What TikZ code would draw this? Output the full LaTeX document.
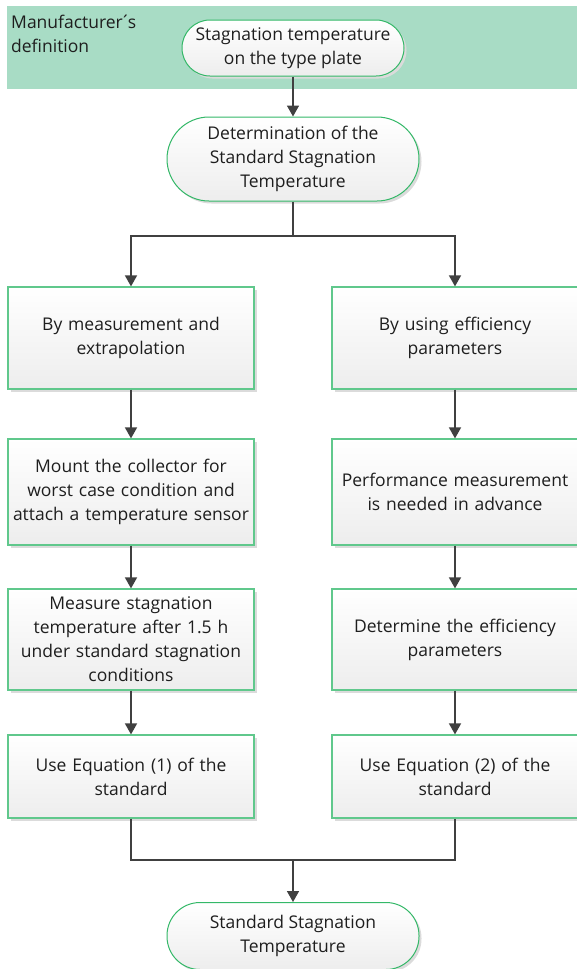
\documentclass[tikz,border=0pt]{standalone}
\usepackage{fontspec}
\setmainfont{Open Sans}
\usetikzlibrary{arrows.meta,shadows,calc}
\definecolor{banner}{RGB}{168,220,197}
\definecolor{edge}{RGB}{52,184,104}
\definecolor{boxedge}{RGB}{96,200,140}
\definecolor{ink}{RGB}{30,30,30}
\definecolor{wire}{RGB}{64,64,64}
\tikzset{
  txt/.style={font=\fontsize{17.5}{24}\selectfont, text=ink, align=center},
  shade/.style={drop shadow={shadow xshift=2.5pt, shadow yshift=-2.5pt, fill=black!14, opacity=1}},
  term/.style={txt, draw=edge, line width=1pt, top color=white, bottom color=black!7, shade, inner sep=0pt},
  stepbox/.style={txt, draw=boxedge, line width=1.2pt, top color=white, bottom color=black!7, shade,
    minimum width=246pt, inner sep=0pt, text width=242pt},
  wireline/.style={draw=wire, line width=1.6pt},
  arr/.style={wireline, -{Triangle[length=11pt,width=12pt]}}
}
\begin{document}
\begin{tikzpicture}[x=1pt,y=-1pt]
\useasboundingbox (0,0) rectangle (577,969);
% banner
\fill[banner] (7,6) rectangle (580,89);
\node[txt, anchor=north west, align=left, inner sep=0pt] (lab) at (11,15) {Manufacturer\kern-2.5pt´\kern-2.5pt s\\definition};
% terminals
\node[term, minimum width=222pt, minimum height=56pt, rounded corners=28pt] (t1) at (293,48)
  {Stagnation temperature\\on the type plate};
\node[term, minimum width=252pt, minimum height=84pt, rounded corners=42pt] (t2) at (293,159)
  {Determination of the\\Standard Stagnation\\Temperature};
\node[term, minimum width=252pt, minimum height=67pt, rounded corners=33pt] (t3) at (293,936)
  {Standard Stagnation\\Temperature};
% left column
\node[stepbox, minimum height=102pt] (l1) at (131,338) {By measurement and\\extrapolation};
\node[stepbox, minimum height=106pt] (l2) at (131,492) {Mount the collector for\\worst case condition and\\attach a temperature sensor};
\node[stepbox, minimum height=101pt] (l3) at (131,639.5) {Measure stagnation\\temperature after 1.5 h\\under standard stagnation\\conditions};
\node[stepbox, minimum height=83pt] (l4) at (131,776.5) {Use Equation (1) of the\\standard};
% right column
\node[stepbox, minimum height=102pt] (r1) at (455,338) {By using efficiency\\parameters};
\node[stepbox, minimum height=106pt] (r2) at (455,492) {Performance measurement\\is needed in advance};
\node[stepbox, minimum height=101pt] (r3) at (455,639.5) {Determine the efficiency\\parameters};
\node[stepbox, minimum height=83pt] (r4) at (455,776.5) {Use Equation (2) of the\\standard};
% connectors
\coordinate (split) at (293,236);
\coordinate (join) at (293,860);
\draw[arr] (t1.south) -- (t2.north);
\draw[wireline] (t2.south) -- (split);
\draw[arr] (split) -| (l1.north);
\draw[arr] (split) -| (r1.north);
\draw[arr] (l1.south) -- (l2.north);
\draw[arr] (l2.south) -- (l3.north);
\draw[arr] (l3.south) -- (l4.north);
\draw[arr] (r1.south) -- (r2.north);
\draw[arr] (r2.south) -- (r3.north);
\draw[arr] (r3.south) -- (r4.north);
\draw[wireline] (l4.south) |- (join) -| (r4.south);
\draw[arr] (join) -- (t3.north);
\end{tikzpicture}
\end{document}
